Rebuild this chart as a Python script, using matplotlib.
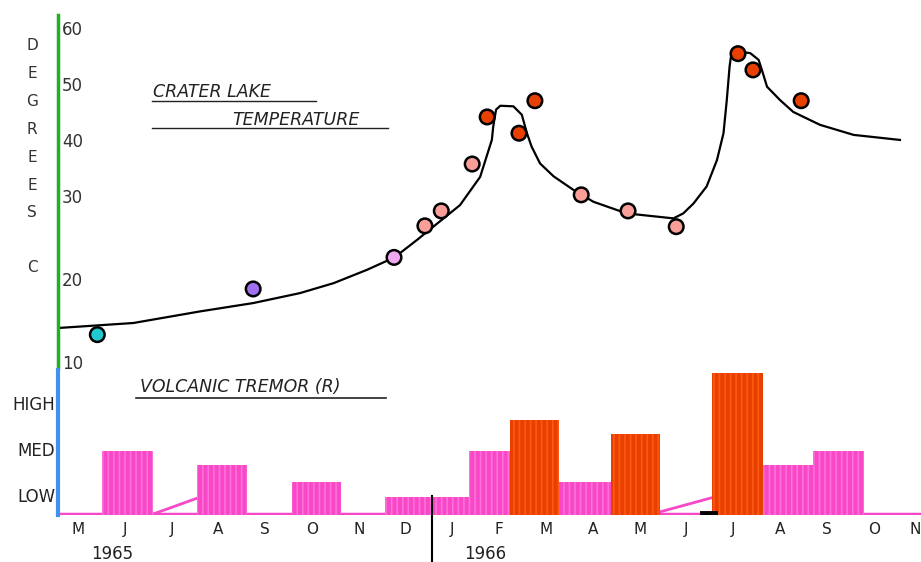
import numpy as np
import matplotlib
matplotlib.use("Agg")
import matplotlib.pyplot as plt
from matplotlib.lines import Line2D
from matplotlib.scale import FuncScale

# months: 0 = May 1965 ... 18 = Nov 1966
months = ["M", "J", "J", "A", "S", "O", "N", "D", "J", "F", "M", "A", "M", "J", "J", "A", "S", "O", "N"]
years = ["1965", "1966"]
year_pos = [0.73, 8.7]
year_break = 7.56

# crater lake temperature samples (deg C)
pt_month = [0.41, 3.74, 6.75, 7.41, 7.76, 8.42, 8.74, 9.42, 9.76, 10.75, 11.75, 12.78, 14.10, 14.42, 15.45]
pt_temp = [13.3, 18.8, 22.6, 26.4, 28.2, 35.7, 44.1, 41.2, 47.0, 30.2, 28.2, 26.3, 55.4, 52.5, 47.0]
pt_color = ["#20c8d0", "#a070f0", "#f0a8f0", "#f8a098", "#f8a098", "#f8a098", "#e84000", "#e84000",
            "#e84000", "#f8a098", "#f8a098", "#f8a098", "#e84000", "#e84000", "#e84000"]

# hand drawn trend curve
curve_month = [-0.42, 1.18, 2.61, 3.74, 4.74, 5.46, 6.17, 6.76, 7.24, 7.59, 8.16, 8.59, 8.84, 8.87,
               8.93, 9.02, 9.30, 9.48, 9.59, 9.69, 9.87, 10.16, 10.58, 11.01, 11.72, 12.72, 12.93,
               13.15, 13.43, 13.65, 13.79, 13.86, 13.92, 13.95, 14.07, 14.36, 14.54, 14.61, 14.72,
               15.0, 15.28, 15.85, 16.57, 17.56]
curve_temp = [14.1, 14.7, 16.1, 17.1, 18.3, 19.5, 21.1, 22.6, 24.7, 26.3, 28.9, 33.4, 40.0, 42.4,
              45.4, 46.1, 46.0, 44.5, 41.2, 38.8, 35.8, 33.5, 31.1, 29.3, 27.9, 27.3, 27.9,
              29.1, 31.7, 36.4, 41.2, 47.1, 53.1, 54.9, 55.8, 55.5, 54.3, 52.5, 49.5,
              47.1, 45.0, 42.7, 40.9, 40.0]

# volcanic tremor (1 = low, 2 = med, 3 = high)
bar_start = [0.51, 2.54, 4.57, 6.56, 8.35, 9.23, 10.28, 11.39, 13.55, 14.64, 15.71]
bar_width = [1.09, 1.07, 1.05, 1.79, 0.88, 1.05, 1.11, 1.05, 1.09, 1.07, 1.08]
bar_level = [1.96, 1.65, 1.28, 0.96, 1.96, 2.63, 1.28, 2.33, 3.65, 1.65, 1.96]
bar_hot = [False, False, False, False, False, True, False, True, True, False, False]
levels = ["LOW", "MED", "HIGH"]

base = 0.565
PINK, PINK2 = "#f848c8", "#ff70d8"
ORANGE, ORANGE2 = "#e84000", "#ff5810"
TXT = "#222222"

plt.rcParams["hatch.linewidth"] = 1.2

W, H = 921, 562
fig = plt.figure(figsize=(W / 100, H / 100), dpi=100)


def fx(px):
    return px / W


def fy(py):
    return 1 - py / H


# temperature axis is stretched below 30 and compressed above
t_knots = [-100, 10, 30, 60, 200]
p_knots = [-913, 0, 166, 334, 1118]


def fwd(t):
    return np.interp(t, t_knots, p_knots)


def inv(p):
    return np.interp(p, p_knots, t_knots)


ax = fig.add_axes([fx(58), fy(370), fx(921 - 58), (370 - 15) / H])
ax.set_yscale(FuncScale(ax.yaxis, (fwd, inv)))
ax.set_xlim(-0.43, 18.01)
ax.set_ylim(9.04, 62.3)
for s in ["top", "right", "bottom"]:
    ax.spines[s].set_visible(False)
ax.spines["left"].set_color("#20b020")
ax.spines["left"].set_linewidth(2.5)
ax.set_xticks([])
ax.set_yticks([10, 20, 30, 40, 50, 60])
ax.set_yticklabels(["10", "20", "30", "40", "50", "60"], fontsize=12, color="#333333")
ax.tick_params(axis="y", length=0, pad=-3)
for lab in ax.get_yticklabels():
    lab.set_horizontalalignment("left")

ax.plot(curve_month, curve_temp, color="black", lw=1.6, zorder=2)
ax.scatter(pt_month, pt_temp, c=pt_color, s=110, edgecolors="black", linewidths=1.8, zorder=3)

# bottom panel
bx = fig.add_axes([fx(58), fy(515), fx(921 - 58), (515 - 370) / H])
bx.set_xlim(-0.43, 18.01)
bx.set_ylim(base, 3.72)
for s in ["top", "right", "bottom"]:
    bx.spines[s].set_visible(False)
bx.spines["left"].set_color("#4090f0")
bx.spines["left"].set_linewidth(3)
bx.set_yticks([1, 2, 3])
bx.set_yticklabels(levels, fontsize=12, color=TXT)
bx.tick_params(axis="y", length=0, pad=2)
bx.set_xticks(range(len(months)))
bx.set_xticklabels(months, fontsize=11, color=TXT)
bx.tick_params(axis="x", length=0, pad=5)
bx.get_xticklabels()[-1].set_horizontalalignment("right")

bx.axhline(base + 0.03, color=PINK, lw=2.5, zorder=1)
for x0, w, lv, hot in zip(bar_start, bar_width, bar_level, bar_hot):
    bx.bar(x0, lv - base, width=w, bottom=base, align="edge",
           color=ORANGE if hot else PINK, edgecolor=ORANGE2 if hot else PINK2,
           linewidth=0, hatch="|||", zorder=2)
bx.plot([1.60, 2.54], [base + 0.02, 0.93], color=PINK, lw=2, zorder=1)
bx.plot([12.26, 13.61], [base + 0.02, 0.96], color=PINK, lw=2, zorder=1)
bx.plot([13.33, 13.61], [base + 0.04, base + 0.04], color="black", lw=3.5, zorder=3)

xt = bx.get_xaxis_transform()
bx.plot([year_break, year_break], [0.131, -0.35], color="black", lw=1.5, transform=xt, clip_on=False)
for yr, xp in zip(years, year_pos):
    bx.text(xp, -0.27, yr, transform=xt, ha="center", va="center", fontsize=12, color=TXT)

# labels
for i, ch in enumerate("DEGREES"):
    fig.text(fx(32), fy(45 + 28 * i), ch, ha="center", va="center", fontsize=11, color="#333333")
fig.text(fx(32), fy(268), "C", ha="center", va="center", fontsize=11, color="#333333")

fig.text(fx(153), fy(92), "CRATER LAKE", ha="left", va="center", fontsize=12.5,
         style="italic", color=TXT)
fig.add_artist(Line2D([fx(152), fx(316)], [fy(101), fy(101)], color=TXT, lw=1))
fig.text(fx(232), fy(120), "TEMPERATURE", ha="left", va="center", fontsize=12.5,
         style="italic", color=TXT)
fig.add_artist(Line2D([fx(152), fx(388)], [fy(128), fy(128)], color=TXT, lw=1))
fig.text(fx(140), fy(387), "VOLCANIC TREMOR (R)", ha="left", va="center", fontsize=12.5,
         style="italic", color=TXT)
fig.add_artist(Line2D([fx(136), fx(386)], [fy(398), fy(398)], color=TXT, lw=1.2))

fig.savefig("out.png", dpi=100)
